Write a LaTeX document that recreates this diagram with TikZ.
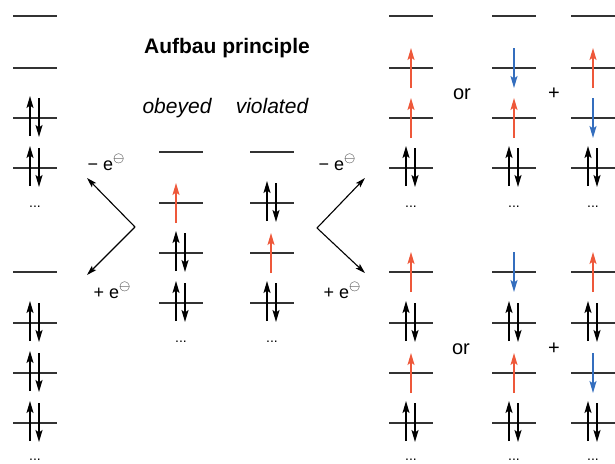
\documentclass[tikz,border=0pt]{standalone}
\usepackage{fontspec}
\setmainfont{Liberation Sans}
\usetikzlibrary{arrows.meta, positioning}

\definecolor{spinred}{RGB}{238,88,58}
\definecolor{spinblue}{RGB}{52,110,190}

% one orbital level, centred at x
\newcommand{\lvl}[2]{\draw[level] (#1-22,#2) -- (#1+22,#2);}
% filled level with an up and a down electron
\newcommand{\pairspin}[2]{%
  \lvl{#1}{#2}
  \draw[spin] (#1-5,#2+18) -- (#1-5,#2-22);
  \draw[spin] (#1+4,#2-20) -- (#1+4,#2+19);}
\newcommand{\upspin}[2]{\draw[spin, spinred] (#1,#2+20) -- (#1,#2-20);}
\newcommand{\dnspin}[2]{\draw[spin, spinblue] (#1,#2-20) -- (#1,#2+20);}
% electron with circled charge
\newcommand{\elec}{e\raisebox{8pt}{\fontsize{14}{14}\selectfont$\ominus$}}

\begin{document}
\begin{tikzpicture}[x=1pt, y=-1pt,
		level/.style = {black!80, line width=1.2pt},
		spin/.style = {line width=1.3pt, -{Stealth[length=12pt, width=7pt, inset=2.5pt]}},
		react/.style = {line width=1.1pt, -{Stealth[length=10pt, width=6pt, inset=2pt]}},
		dots/.style = {anchor=base, font=\fontsize{14}{16}\selectfont},
		elabel/.style = {anchor=base, font=\fontsize{18}{20}\selectfont},
		word/.style = {anchor=base, font=\fontsize{20}{24}\selectfont}
	]
		\useasboundingbox (0,0) rectangle (615,463);
		
		% titles
		\node at (227,53) (title) [anchor=base, font=\bfseries\fontsize{21}{24}\selectfont] {Aufbau principle};
		\node at (177,113) (obeyed) [anchor=base, font=\itshape\fontsize{21}{24}\selectfont] {obeyed};
		\node at (272,113) (violated) [anchor=base, font=\itshape\fontsize{21}{24}\selectfont] {violated};
		
		% left column
		\lvl{35}{16} \lvl{35}{68}
		\pairspin{35}{118} \pairspin{35}{168}
		\node at (35,207) (dotsLa) [dots] {...};
		\lvl{35}{272}
		\pairspin{35}{323} \pairspin{35}{373} \pairspin{35}{423}
		\node at (35,460) (dotsLb) [dots] {...};
		
		% obeyed / violated
		\lvl{181}{152} \lvl{181}{203} \upspin{176}{203}
		\pairspin{181}{253} \pairspin{181}{303}
		\node at (181,342) (dotsOb) [dots] {...};
		\lvl{272}{152} \pairspin{272}{203}
		\lvl{272}{253} \upspin{271}{253}
		\pairspin{272}{303}
		\node at (272,342) (dotsVi) [dots] {...};
		
		% ionisation arrows
		\coordinate (vL) at (135,227);
		\coordinate (tLup) at (87,178);
		\coordinate (tLdn) at (87,275);
		\coordinate (vR) at (317,228);
		\coordinate (tRup) at (365,178);
		\coordinate (tRdn) at (365,273);
		\path [react]
		(vL) edge (tLup)
		edge (tLdn)
		(vR) edge (tRup)
		edge (tRdn);
		\node at (106,170) (lossL) [elabel] {\char"2212{} \elec};
		\node at (112,298) (gainL) [elabel] {+ \elec};
		\node at (337,170) (lossR) [elabel] {\char"2212{} \elec};
		\node at (342,298) (gainR) [elabel] {+ \elec};
		
		% right side, upper group
		\foreach \cx in {411,514,593} {
			\lvl{\cx}{16} \lvl{\cx}{68} \lvl{\cx}{118}
			\pairspin{\cx}{168}
			\node at (\cx,207) [dots] {...};
		}
		\upspin{411}{68} \upspin{411}{118}
		\dnspin{514}{68} \upspin{514}{118}
		\upspin{593}{68} \dnspin{593}{118}
		\node at (462,99) (orA) [word] {or};
		\node at (554,99) (plusA) [word] {+};
		
		% right side, lower group
		\foreach \cx in {411,514,593} {
			\lvl{\cx}{272} \pairspin{\cx}{323}
			\lvl{\cx}{373} \pairspin{\cx}{423}
			\node at (\cx,460) [dots] {...};
		}
		\upspin{411}{272} \upspin{411}{373}
		\dnspin{514}{272} \upspin{514}{373}
		\upspin{593}{272} \dnspin{593}{373}
		\node at (461,354) (orB) [word] {or};
		\node at (554,354) (plusB) [word] {+};
	\end{tikzpicture}
\end{document}
